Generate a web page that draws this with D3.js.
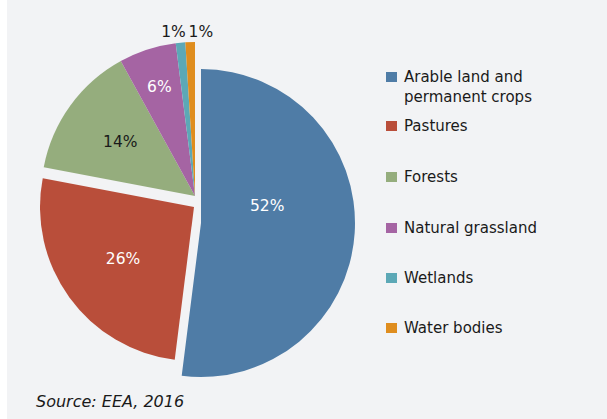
<!DOCTYPE html>
<html>
<head>
<meta charset="utf-8">
<script src="https://cdn.jsdelivr.net/npm/d3@7/dist/d3.min.js"></script>
<style>
  body { margin: 0; background: #fff; }
  svg { display: block; font-family: "DejaVu Sans", sans-serif; }
</style>
</head>
<body>
<div id="chart"></div>
<script>
// Data
var categories = ['Arable land and permanent crops', 'Pastures', 'Forests', 'Natural grassland', 'Wetlands', 'Water bodies'];
var shares = [52, 26, 14, 6, 1, 1];
var colors = ['#4f7ca6', '#b94e3a', '#95ad7d', '#a564a3', '#5ca8b6', '#df8d1e'];
var source = 'Source: EEA, 2016';

var width = 607, height = 419;
var cx = 195, cy = 196, radius = 154;

// exploded slices (Excel point explosion), in px
var explode = [[6, 27], [-1, 11], [0, 0], [0, 0], [0, 0], [0, 0]];
// label placement as fraction of radius, with small nudges
var labelRatio = [0.45, 0.57, 0.6, 0.75, 1.07, 1.07];
var labelNudge = [[-3, -22], [0, 0], [0, 0], [0, 0], [-6, 0], [11, 0]];
var labelColor = ['#fff', '#fff', '#1a1a1a', '#fff', '#1a1a1a', '#1a1a1a'];

var svg = d3.select('#chart').append('svg')
  .attr('width', width)
  .attr('height', height);

svg.append('rect')
  .attr('x', 7).attr('y', 0)
  .attr('width', width - 7).attr('height', height)
  .attr('fill', '#f2f3f5');

var pie = d3.pie().sort(null).value(function(d){ return d; });
var arcs = pie(shares);

var arc = d3.arc().innerRadius(0).outerRadius(radius);

var g = svg.append('g')
  .attr('transform', 'translate(' + cx + ',' + cy + ')');

g.selectAll('.slice')
  .data(arcs)
.enter().append('path')
  .attr('class', 'slice')
  .attr('transform', function(d, i){ return 'translate(' + explode[i][0] + ',' + explode[i][1] + ')'; })
  .attr('fill', function(d, i){ return colors[i]; })
  .attr('d', arc);

g.selectAll('.pct')
  .data(arcs)
.enter().append('text')
  .attr('class', 'pct')
  .attr('x', function(d, i){
    var a = (d.startAngle + d.endAngle) / 2;
    return explode[i][0] + Math.sin(a) * radius * labelRatio[i] + labelNudge[i][0];
  })
  .attr('y', function(d, i){
    var a = (d.startAngle + d.endAngle) / 2;
    return explode[i][1] - Math.cos(a) * radius * labelRatio[i] + labelNudge[i][1];
  })
  .attr('dy', '0.35em')
  .attr('text-anchor', 'middle')
  .attr('font-size', 15.5)
  .attr('fill', function(d, i){ return labelColor[i]; })
  .text(function(d){ return d.data + '%'; });

// Legend
var legendRows = [82, 131, 182, 233, 283, 333];
var legend = svg.append('g').attr('class', 'legend');

var items = legend.selectAll('.item')
  .data(categories)
.enter().append('g')
  .attr('class', 'item')
  .attr('transform', function(d, i){ return 'translate(386,' + legendRows[i] + ')'; });

items.append('rect')
  .attr('x', 0).attr('y', -10)
  .attr('width', 11).attr('height', 10)
  .attr('fill', function(d, i){ return colors[i]; });

items.append('text')
  .attr('x', 18)
  .attr('font-size', 15)
  .attr('fill', '#1a1a1a')
  .each(function(d, i){
    var t = d3.select(this);
    var lines = (i === 0) ? ['Arable land and', 'permanent crops'] : [d];
    lines.forEach(function(l, j){
      t.append('tspan').attr('x', 18).attr('y', j * 20).text(l);
    });
  });

svg.append('text')
  .attr('x', 36)
  .attr('y', 407)
  .attr('font-size', 16)
  .attr('font-style', 'italic')
  .attr('fill', '#1a1a1a')
  .text(source);
</script>
</body>
</html>
